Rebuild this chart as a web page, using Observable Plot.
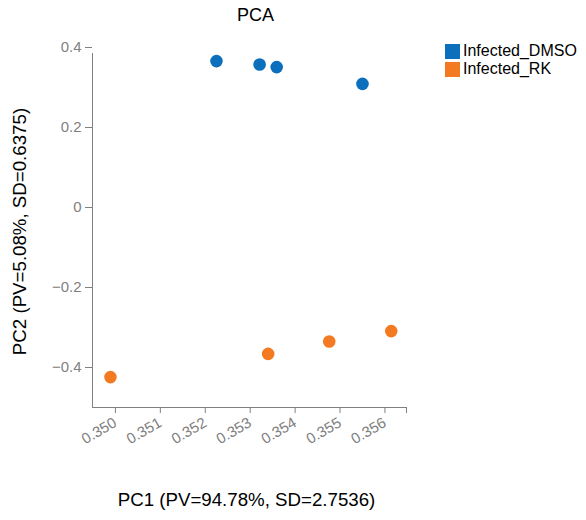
<!DOCTYPE html>
<html><head><meta charset="utf-8">
<script src="https://cdn.jsdelivr.net/npm/d3@7"></script>
<script src="https://cdn.jsdelivr.net/npm/@observablehq/plot@0.6"></script>
<style>
body{margin:0;background:#fff;font-family:"Liberation Sans",Arial,sans-serif;}
#wrap{position:relative;width:586px;height:520px;}
#title{position:absolute;left:0;width:511px;top:5px;text-align:center;font-size:18px;color:#000;}
#legend{position:absolute;left:445px;top:42px;font-size:16px;color:#000;}
.li{display:flex;align-items:center;height:18px;}
.sw{width:15px;height:15px;margin-right:3px;}
</style></head>
<body><div id="wrap"><div id="title">PCA</div><div id="legend"></div></div>
<script>
const groups = ["Infected_DMSO","Infected_RK"];
const colors = ["#0B6FBC","#F47A22"];
const pc1_dmso = [0.35225, 0.35321, 0.35359, 0.35550];
const pc2_dmso = [0.366, 0.3575, 0.351, 0.309];
const pc1_rk = [0.34989, 0.35340, 0.35476, 0.35614];
const pc2_rk = [-0.424, -0.366, -0.335, -0.309];
const xTicks = [0.350,0.351,0.352,0.353,0.354,0.355,0.356];
const yTicks = [0.4,0.2,0,-0.2,-0.4];
const xDomain = [0.34949, 0.35648];
const yDomain = [-0.5, 0.4];
const xLabel = "PC1 (PV=94.78%, SD=2.7536)";
const yLabel = "PC2 (PV=5.08%, SD=0.6375)";

const data = [
  ...pc1_dmso.map((x,i)=>({x, y:pc2_dmso[i], g:groups[0]})),
  ...pc1_rk.map((x,i)=>({x, y:pc2_rk[i], g:groups[1]}))
];
const grey = "#808080";
const chart = Plot.plot({
  width:586, height:520,
  marginLeft:92, marginRight:180, marginTop:47, marginBottom:113,
  style:{fontFamily:"'Liberation Sans',Arial,sans-serif", fontSize:"15px", color:grey, background:"transparent"},
  x:{domain:xDomain},
  y:{domain:yDomain},
  color:{domain:groups, range:colors},
  marks:[
    Plot.ruleX([xDomain[0]], {y1:yDomain[0], y2:yDomain[1], stroke:grey, insetBottom:-6}),
    Plot.ruleY([yDomain[0]], {x1:xDomain[0], x2:xDomain[1], stroke:grey}),
    Plot.ruleX([xDomain[1]], {y1:yDomain[0], y2:yDomain[0], stroke:grey, insetBottom:-6}),
    Plot.axisY({ticks:yTicks, tickSize:7, tickPadding:4, stroke:grey, fill:grey, tickFormat:d=>d===0?"0":d3.format(".1f")(d), label:null}),
    Plot.axisX({ticks:xTicks, tickSize:6, tickPadding:8, stroke:grey, fill:grey, tickRotate:-30, tickFormat:d3.format(".3f"), label:null}),
    Plot.dot(data, {x:"x", y:"y", fill:"g", r:6.3, stroke:null}),
    Plot.text([yLabel], {frameAnchor:"left", textAnchor:"middle", dx:-72, dy:4, rotate:-90, fill:"#000", fontSize:18.7, text:d=>d}),
    Plot.text([xLabel], {frameAnchor:"bottom", dy:98, dx:-3, fill:"#000", fontSize:18.7, text:d=>d})
  ]
});
document.getElementById("wrap").prepend(chart);
chart.style.position="absolute"; chart.style.left="0"; chart.style.top="0";
const lg = document.getElementById("legend");
groups.forEach((g,i)=>{
  const d=document.createElement("div"); d.className="li";
  d.innerHTML=`<span class="sw" style="background:${colors[i]}"></span><span>${g}</span>`;
  lg.appendChild(d);
});
</script></body></html>
